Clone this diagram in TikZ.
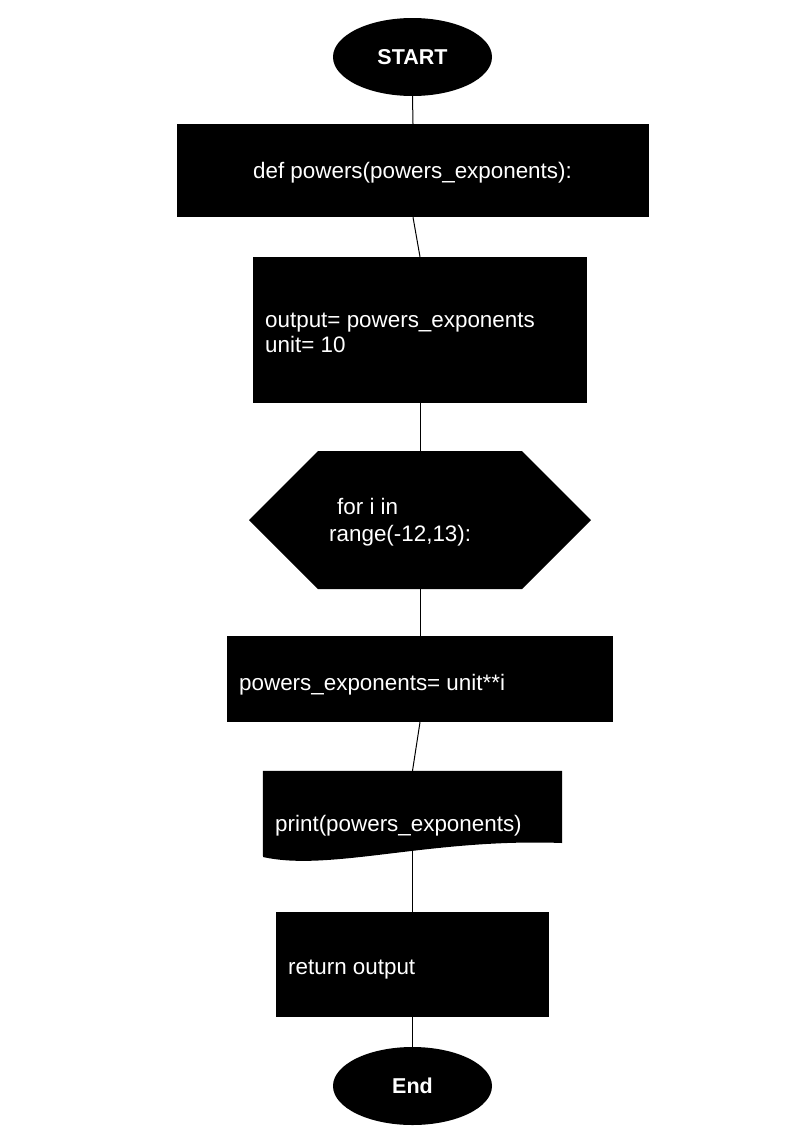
\documentclass[tikz,border=0pt]{standalone}
\usepackage{fontspec}
\setmainfont{Liberation Sans}
\usetikzlibrary{shapes.geometric,shapes.symbols}
\begin{document}
\begin{tikzpicture}[x=1pt,y=-1pt,
  blk/.style={fill=black, draw=none, inner sep=0pt},
  term/.style={blk, ellipse, minimum width=159pt, minimum height=78pt, text=white, font=\bfseries\fontsize{21.5}{26}\selectfont},
  box/.style={blk, rectangle},
  txt/.style={text=white, inner sep=0pt, anchor=base west, font=\fontsize{22.4}{25}\selectfont, align=left},
  link/.style={draw=black, line width=1pt}]
\useasboundingbox[fill=white] (0,0) rectangle (804,1136);
% shapes
\node[term] (start) at (412.5,57) {START};
\node[box, minimum width=472pt, minimum height=93pt] (def) at (413,170.5) {};
\node[box, minimum width=334pt, minimum height=146pt] (init) at (420,330) {};
\node[blk, signal, signal to=east and west, signal pointer angle=90, minimum width=342pt, minimum height=138pt] (loop) at (420,520) {};
\node[box, minimum width=386pt, minimum height=86pt] (body) at (420,679) {};
\node[draw=none, fill=none, inner sep=0pt, minimum width=299pt, minimum height=80pt] (out) at (412.5,811) {};
\fill[black] (out.north west) -- (out.north east) -- (562,843) .. controls (430,838) and (330,872) .. (263,857) -- cycle;
\node[box, minimum width=273pt, minimum height=105pt] (ret) at (412.5,964.5) {};
\node[term] (end) at (412.5,1086) {End};
% texts
\node[txt, anchor=base] (defT) at (412.5,178) {def powers(powers\_exponents):};
\node[txt] (initT) at (265,352) {output= powers\_exponents\\unit= 10};
\node[txt, font=\fontsize{22.4}{27}\selectfont] (loopT) at (329,541) {\hspace{8pt}for i in\\range(-12,13):};
\node[txt] (bodyT) at (239,690) {powers\_exponents= unit**i};
\node[txt] (outT) at (275,831) {print(powers\_exponents)};
\node[txt] (retT) at (288,974) {return output};
% connectors
\draw[link] (start.south) -- (def.north);
\draw[link] (def.south) -- (init.north);
\draw[link] (init.south) -- (loop.north);
\draw[link] (loop.south) -- (body.north);
\draw[link] (body.south) -- (out.north);
\draw[link] (out.south) -- (ret.north);
\draw[link] (ret.south) -- (end.north);
\end{tikzpicture}
\end{document}
